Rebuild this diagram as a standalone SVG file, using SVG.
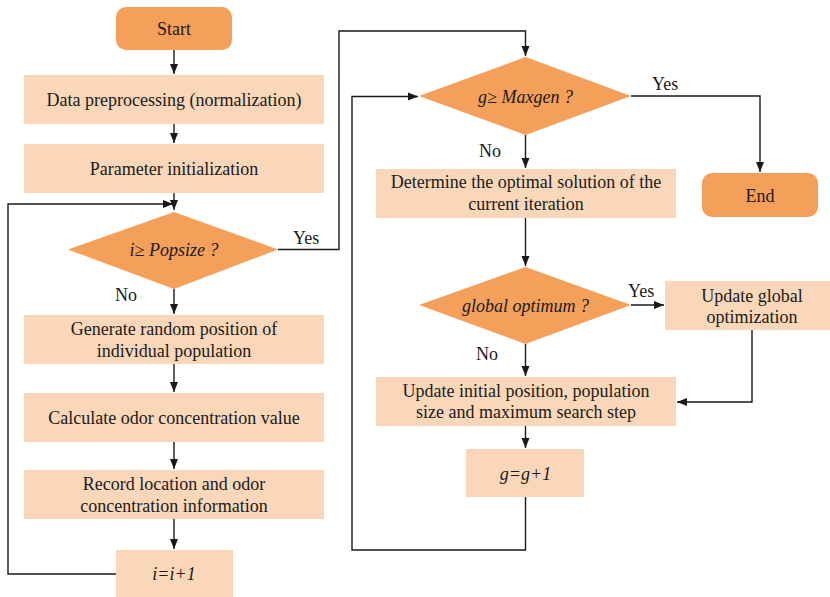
<svg xmlns="http://www.w3.org/2000/svg" width="830" height="597" viewBox="0 0 830 597">
<style>
.term{fill:#F4A05A}
.proc{fill:#FAD7B9}
.dec{fill:#F4A05A}
.ln{fill:none;stroke:#1a1a1a;stroke-width:1.4}
.t{font-family:'Liberation Serif','Times New Roman',serif;font-size:18px;fill:#1a1a1a;text-anchor:middle}
.it{font-style:italic}
.lbl{text-anchor:start}
</style>
<defs>
<marker id="ah" viewBox="0 0 10 10" refX="10" refY="5" markerWidth="10" markerHeight="10" markerUnits="userSpaceOnUse" orient="auto">
<path d="M0,1 L10,5 L0,9 Z" fill="#1a1a1a"/>
</marker>
</defs>
<rect width="830" height="597" fill="#fff"/>
<g id="connectors">
<path class="ln" d="M174,50 V74" marker-end="url(#ah)"/>
<path class="ln" d="M174,124 V143" marker-end="url(#ah)"/>
<path class="ln" d="M174,193 V210" marker-end="url(#ah)"/>
<path class="ln" d="M116,574 H8 V204 H173" marker-end="url(#ah)"/>
<path class="ln" d="M174,289 V314" marker-end="url(#ah)"/>
<path class="ln" d="M174,364 V392" marker-end="url(#ah)"/>
<path class="ln" d="M174,442 V469" marker-end="url(#ah)"/>
<path class="ln" d="M174,519 V549" marker-end="url(#ah)"/>
<path class="ln" d="M278,249.5 H339 V31 H525.5 V56" marker-end="url(#ah)"/>
<path class="ln" d="M631,96 H760 V172" marker-end="url(#ah)"/>
<path class="ln" d="M525.5,135 V168" marker-end="url(#ah)"/>
<path class="ln" d="M525.5,218 V266" marker-end="url(#ah)"/>
<path class="ln" d="M631,305 H664" marker-end="url(#ah)"/>
<path class="ln" d="M752,330 V402 H677" marker-end="url(#ah)"/>
<path class="ln" d="M525.5,344 V376" marker-end="url(#ah)"/>
<path class="ln" d="M525.5,426 V448" marker-end="url(#ah)"/>
<path class="ln" d="M525.5,497 V550 H352 V96.5 H418" marker-end="url(#ah)"/>
</g>
<g id="labels">
<text class="t lbl" x="293" y="244">Yes</text>
<text class="t lbl" x="115" y="301">No</text>
<text class="t lbl" x="652" y="90">Yes</text>
<text class="t lbl" x="479" y="157">No</text>
<text class="t lbl" x="628" y="297">Yes</text>
<text class="t lbl" x="476" y="360">No</text>
</g>
<g id="start"><rect class="term" x="116" y="7" width="116" height="43" rx="10"/><text class="t" x="174" y="35">Start</text></g>
<g id="data"><rect class="proc" x="24" y="75" width="300" height="49"/><text class="t" x="174" y="106">Data preprocessing (normalization)</text></g>
<g id="param"><rect class="proc" x="24" y="144" width="300" height="49"/><text class="t" x="174" y="175">Parameter initialization</text></g>
<g id="cond1"><polygon class="dec" points="174,212 278,249.5 174,289 68,249.5"/><text class="t it" x="174" y="256">i≥ Popsize ?</text></g>
<g id="generate"><rect class="proc" x="24" y="315" width="300" height="49"/><text class="t" x="174" y="335">Generate random position of</text><text class="t" x="174" y="357">individual population</text></g>
<g id="calc"><rect class="proc" x="24" y="393" width="300" height="49"/><text class="t" x="174" y="424">Calculate odor concentration value</text></g>
<g id="record"><rect class="proc" x="24" y="470" width="300" height="49"/><text class="t" x="174" y="490">Record location and odor</text><text class="t" x="174" y="512">concentration information</text></g>
<g id="inc_i"><rect class="proc" x="116" y="550" width="117" height="47"/><text class="t it" x="174" y="580">i=i+1</text></g>
<g id="cond2"><polygon class="dec" points="525.5,57 631,96 525.5,135 419,96"/><text class="t it" x="525.5" y="103">g≥ Maxgen ?</text></g>
<g id="end"><rect class="term" x="702" y="173" width="116" height="44" rx="10"/><text class="t" x="760" y="202">End</text></g>
<g id="determine"><rect class="proc" x="376" y="169" width="300" height="49"/><text class="t" x="526" y="188">Determine the optimal solution of the</text><text class="t" x="526" y="210">current iteration</text></g>
<g id="cond3"><polygon class="dec" points="525.5,267 631,305 525.5,344 419,305"/><text class="t it" x="525.5" y="312">global optimum ?</text></g>
<g id="updglobal"><rect class="proc" x="665" y="281" width="165" height="49"/><text class="t" x="752" y="302">Update global</text><text class="t" x="752" y="323">optimization</text></g>
<g id="updinit"><rect class="proc" x="376" y="377" width="300" height="49"/><text class="t" x="526" y="397">Update initial position, population</text><text class="t" x="526" y="418">size and maximum search step</text></g>
<g id="inc_g"><rect class="proc" x="466" y="449" width="118" height="48"/><text class="t it" x="525.5" y="480">g=g+1</text></g>
</svg>
